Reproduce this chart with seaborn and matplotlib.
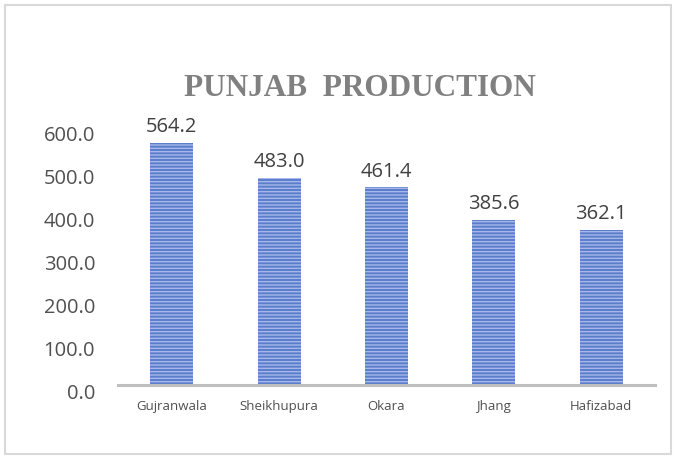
import matplotlib
matplotlib.use("Agg")
import matplotlib.pyplot as plt
import seaborn as sns
from matplotlib.patches import Rectangle
from matplotlib.transforms import ScaledTranslation

# data
districts = ["Gujranwala", "Sheikhupura", "Okara", "Jhang", "Hafizabad"]
production = [564.2, 483.0, 461.4, 385.6, 362.1]
yticks = [0, 100, 200, 300, 400, 500, 600]

sns.set_style("white")
plt.rcParams["font.family"] = ["Open Sans", "DejaVu Sans"]
plt.rcParams["hatch.linewidth"] = 1.0

fig = plt.figure(figsize=(6.74, 4.57), dpi=100)
ax = fig.add_axes([0.1751, 0.1575, 0.7967, 0.5633])

sns.barplot(x=districts, y=production, ax=ax, color="#5b7dcc",
            width=0.40, saturation=1)
for bar in ax.patches:
    bar.set_hatch("-----")
    bar.set_edgecolor("#a4b9ea")
    bar.set_linewidth(0)

# value labels above the bars
ax.bar_label(ax.containers[0], fmt="%.1f", padding=4, fontsize=14.5,
             color="#404040")

ax.set_ylim(0, 600)
ax.set_yticks(yticks)
ax.set_yticklabels([f"{v:.1f}" for v in yticks])
ax.set_xlabel("")
ax.set_ylabel("")
ax.tick_params(axis="y", length=0, pad=16.5, labelsize=14.5, labelcolor="#505050")
ax.tick_params(axis="x", length=0, pad=11, labelsize=9.5, labelcolor="#505050")

for side in ["top", "right", "left"]:
    ax.spines[side].set_visible(False)
ax.spines["bottom"].set_color("#bfbfbf")
ax.spines["bottom"].set_linewidth(2.2)
ax.spines["bottom"].set_zorder(5)

# excel put the y labels a bit below their gridlines
shift = ScaledTranslation(0, -6 / 100, fig.dpi_scale_trans)
for lab in ax.get_yticklabels():
    lab.set_transform(lab.get_transform() + shift)

fig.text(0.534, 1 - 89 / 457, "PUNJAB  PRODUCTION", ha="center", va="center",
         fontsize=22.5, fontweight="bold", color="#808080",
         family=["Liberation Serif", "DejaVu Serif"])

# light border round the chart area
fig.patches.append(Rectangle((0.007, 0.006), 0.988, 0.984, transform=fig.transFigure,
                             fill=False, edgecolor="#d9d9d9", linewidth=1.5))

fig.savefig("out.png", dpi=100)
